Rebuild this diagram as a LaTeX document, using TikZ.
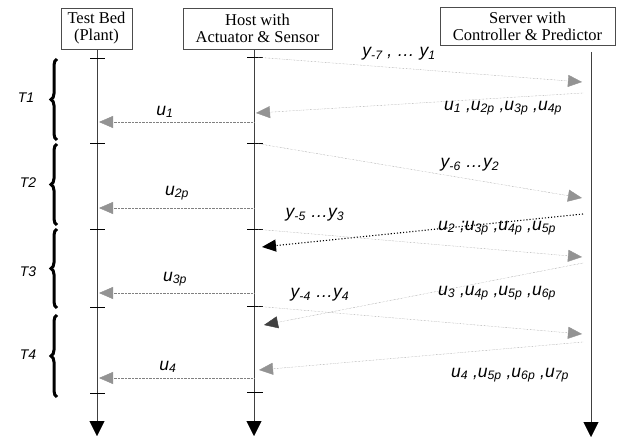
\documentclass[tikz,border=0pt]{standalone}
\usepackage{fontspec}
\setmainfont{Liberation Serif}
\setsansfont{Liberation Sans}
\usepackage{tikz}
\usetikzlibrary{arrows.meta, decorations.pathreplacing, positioning}

\begin{document}
\begin{tikzpicture}[x=1pt, y=-1pt, >=Stealth,
        box/.style={draw=black!70, thin, align=center, inner sep=0pt, font=\rmfamily\fontsize{16.5}{17}\selectfont},
        life/.style={draw=black!75, thin, -{Triangle[length=15pt, width=15pt, color=black]}},
        msg/.style={draw=gray, densely dotted, -{Triangle[length=14pt, width=12pt, color=gray!85]}},
        msgdark/.style={draw=black, dotted, line width=1.1pt, -{Triangle[length=14pt, width=12pt, color=black]}},
        lbl/.style={font=\sffamily\itshape\fontsize{17.5}{19}\selectfont, inner sep=1pt},
        period/.style={font=\sffamily\itshape\fontsize{14}{16}\selectfont},
        brace/.style={decorate, decoration={brace, amplitude=6pt}, line width=3pt}]
        \useasboundingbox (0,0) rectangle (621,438);

        % Nodes
        \node[box, minimum width=71pt, minimum height=41pt] (bed) at (96.5, 28.5) {Test Bed\\(Plant)};
        \node[box, minimum width=149pt, minimum height=41pt] (host) at (257.5, 28.5) {Host with\\Actuator \& Sensor};
        \node[box, minimum width=175pt, minimum height=38pt] (server) at (527.5, 26) {Server with\\Controller \& Predictor};

        \coordinate (bedtop) at (97, 50);
        \coordinate (bedend) at (97, 436);
        \coordinate (hosttop) at (254, 50);
        \coordinate (hostend) at (254, 436);
        \coordinate (srvtop) at (591, 52);
        \coordinate (srvend) at (591, 437);

        % Message end points
        \foreach \n/\x/\y in {ys1/254/57, ye1/582/82, us1/583/93, ue1/256/113,
                pa1/254/122, pb1/99/122, ys2/254/143, ye2/582/198,
                pa2/254/208, pb2/99/208, us2/583/214, ue2/262/247,
                ys3/254/229, ye3/582/257, us3/583/263, ue3/264/325,
                pa3/254/293, pb3/99/293, ys4/254/306, ye4/582/334,
                us4/583/342, ue4/259/370, pa4/254/378, pb4/99/378}
            \coordinate (\n) at (\x, \y);

        % Lifelines
        \draw[life] (bedtop) -- (bedend);
        \draw[life] (hosttop) -- (hostend);
        \draw[life] (srvtop) -- (srvend);
        \foreach \t in {58, 143, 229, 307, 393}
            \draw[thin] (90, \t) -- (105, \t);
        \foreach \t in {57, 143, 229, 306, 392}
            \draw[thin] (247, \t) -- (263, \t);

        % Periods
        \draw[brace] (57, 140) -- (57, 59);
        \draw[brace] (57, 225) -- (57, 144);
        \draw[brace] (57, 308) -- (57, 229);
        \draw[brace] (57, 397) -- (57, 315);
        \node[period] (T1) at (26, 98) {T1};
        \node[period] (T2) at (28, 183) {T2};
        \node[period] (T3) at (28, 272) {T3};
        \node[period] (T4) at (28, 355) {T4};

        % Directed edges
        \draw[msg] (ys1) -- (ye1);
        \draw[msg] (us1) -- (ue1);
        \draw[msg] (pa1) -- (pb1);
        \draw[msg] (ys2) -- (ye2);
        \draw[msg] (pa2) -- (pb2);
        \draw[msgdark] (us2) -- (ue2);
        \draw[msg] (ys3) -- (ye3);
        \draw[msg, -{Triangle[length=14pt, width=12pt, color=black!75]}] (us3) -- (ue3);
        \draw[msg] (pa3) -- (pb3);
        \draw[msg] (ys4) -- (ye4);
        \draw[msg] (us4) -- (ue4);
        \draw[msg] (pa4) -- (pb4);

        % Labels
        \node[lbl] (ly1) at (399, 54) {y\textsubscript{-7} , \ldots\ y\textsubscript{1}};
        \node[lbl] (lu1p) at (503, 108) {u\textsubscript{1} ,u\textsubscript{2p} ,u\textsubscript{3p} ,u\textsubscript{4p}};
        \node[lbl] (lu1) at (165, 112) {u\textsubscript{1}};
        \node[lbl] (ly2) at (470, 165) {y\textsubscript{-6} \ldots y\textsubscript{2}};
        \node[lbl] (lu2p) at (177, 193) {u\textsubscript{2p}};
        \node[lbl] (ly3) at (315, 215) {y\textsubscript{-5} \ldots y\textsubscript{3}};
        \node[lbl] (lu2) at (497, 228) {u\textsubscript{2} ;u\textsubscript{3p} ,u\textsubscript{4p} ,u\textsubscript{5p}};
        \node[lbl] (lu3p) at (175, 279) {u\textsubscript{3p}};
        \node[lbl] (ly4) at (320, 295) {y\textsubscript{-4} \ldots y\textsubscript{4}};
        \node[lbl] (lu3) at (497, 293) {u\textsubscript{3} ,u\textsubscript{4p} ,u\textsubscript{5p} ,u\textsubscript{6p}};
        \node[lbl] (lu4) at (168, 367) {u\textsubscript{4}};
        \node[lbl] (lu4p) at (510, 375) {u\textsubscript{4} ,u\textsubscript{5p} ,u\textsubscript{6p} ,u\textsubscript{7p}};
    \end{tikzpicture}
\end{document}
